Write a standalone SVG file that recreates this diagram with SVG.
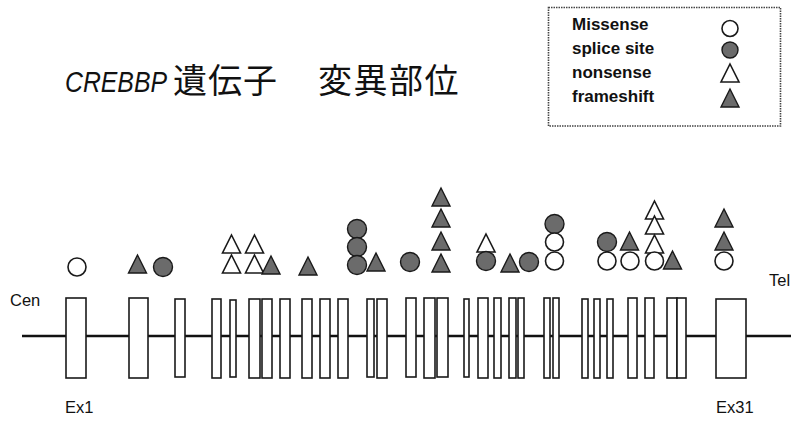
<svg xmlns="http://www.w3.org/2000/svg" xmlns:xlink="http://www.w3.org/1999/xlink" width="791" height="421" viewBox="0 0 791 421">
<style>
.lbl{font-family:"Liberation Sans",Arial,sans-serif;font-size:16.5px;fill:#111}
.leg{font-family:"Liberation Sans",Arial,sans-serif;font-size:17px;font-weight:bold;fill:#111}
.ex{fill:#fff;stroke:#1a1a1a;stroke-width:1.6}
.oc{fill:#fff;stroke:#1a1a1a;stroke-width:1.6}
.fc{fill:#6b6b6b;stroke:#1a1a1a;stroke-width:1.4}
.ot{fill:#fff;stroke:#1a1a1a;stroke-width:1.6;stroke-linejoin:miter}
.ft{fill:#6b6b6b;stroke:#1a1a1a;stroke-width:1.4}
.cjk{font-family:"Noto Sans CJK JP",sans-serif;font-size:34px;fill:#111}
</style>
<defs>
<path id="tri" d="M0,0 L9,18 L-9,18 Z"/>
</defs>
<rect width="791" height="421" fill="#fff"/>

<g id="title">
<text x="65" y="92" font-family="'Liberation Sans',Arial,sans-serif" font-style="italic" font-size="29" textLength="102" lengthAdjust="spacingAndGlyphs" fill="#111">CREBBP</text>
<text class="cjk" x="173" y="93" letter-spacing="1">遺伝子</text>
<text class="cjk" x="318" y="93" letter-spacing="1.5">変異部位</text>
</g>

<g id="legend">
<rect x="548.5" y="7.5" width="232" height="118.5" fill="#fff" stroke="#444" stroke-width="1.6" stroke-dasharray="1.5 1"/>
<text class="leg" x="572" y="30">Missense</text>
<text class="leg" x="572" y="54">splice site</text>
<text class="leg" x="572" y="78">nonsense</text>
<text class="leg" x="572" y="102">frameshift</text>
<circle class="oc" cx="730" cy="28.5" r="8"/>
<circle class="fc" cx="730" cy="50" r="8"/>
<use href="#tri" class="ot" x="730" y="64"/>
<use href="#tri" class="ft" x="730" y="89"/>
</g>

<g id="labels">
<text class="lbl" x="10" y="306">Cen</text>
<text class="lbl" x="769" y="286">Tel</text>
<text class="lbl" x="65" y="413">Ex1</text>
<text class="lbl" x="716" y="413">Ex31</text>
</g>

<g id="connectors">
<line x1="22" y1="336" x2="791" y2="336" stroke="#111" stroke-width="2.5"/>
</g>

<g id="exons">
<rect class="ex" x="66" y="298" width="20" height="80"/>
<rect class="ex" x="129" y="298" width="19" height="80"/>
<rect class="ex" x="175" y="299" width="10" height="78"/>
<rect class="ex" x="212" y="299" width="9" height="79"/>
<rect class="ex" x="230" y="300" width="6" height="77"/>
<rect class="ex" x="249" y="299" width="11" height="79"/>
<rect class="ex" x="262" y="299" width="10" height="79"/>
<rect class="ex" x="280" y="299" width="10" height="79"/>
<rect class="ex" x="302" y="299" width="10" height="79"/>
<rect class="ex" x="320" y="299" width="10" height="79"/>
<rect class="ex" x="338" y="299" width="10" height="79"/>
<rect class="ex" x="367" y="299" width="7" height="78"/>
<rect class="ex" x="377" y="299" width="10" height="79"/>
<rect class="ex" x="406" y="298" width="10" height="79"/>
<rect class="ex" x="424" y="298" width="11" height="80"/>
<rect class="ex" x="437" y="298" width="11" height="79"/>
<rect class="ex" x="464" y="299" width="5" height="78"/>
<rect class="ex" x="478" y="298" width="10" height="80"/>
<rect class="ex" x="494" y="298" width="7" height="80"/>
<rect class="ex" x="509" y="298" width="7" height="80"/>
<rect class="ex" x="518" y="298" width="6" height="80"/>
<rect class="ex" x="544" y="298" width="6" height="80"/>
<rect class="ex" x="553" y="298" width="6" height="80"/>
<rect class="ex" x="582" y="299" width="6" height="79"/>
<rect class="ex" x="594" y="299" width="6" height="79"/>
<rect class="ex" x="607" y="299" width="6" height="79"/>
<rect class="ex" x="628" y="298" width="9" height="80"/>
<rect class="ex" x="645" y="298" width="9" height="80"/>
<rect class="ex" x="667" y="298" width="10" height="80"/>
<rect class="ex" x="677" y="298" width="9" height="80"/>
<rect class="ex" x="716" y="299" width="30" height="79"/>
</g>

<g id="mutations">
<circle class="oc" cx="77" cy="267" r="9"/>
<use href="#tri" class="ft" x="137.5" y="255"/>
<circle class="fc" cx="163" cy="267" r="9.5"/>
<use href="#tri" class="ot" x="231.5" y="235"/>
<use href="#tri" class="ot" x="231.5" y="255"/>
<use href="#tri" class="ot" x="254.5" y="235"/>
<use href="#tri" class="ot" x="254.5" y="255"/>
<use href="#tri" class="ft" x="271" y="256"/>
<use href="#tri" class="ft" x="308" y="257"/>
<circle class="fc" cx="357" cy="229" r="9.5"/>
<circle class="fc" cx="357" cy="247" r="9.5"/>
<circle class="fc" cx="357" cy="265" r="9.5"/>
<use href="#tri" class="ft" x="376" y="253"/>
<circle class="fc" cx="410" cy="262" r="9.5"/>
<use href="#tri" class="ft" x="441" y="188"/>
<use href="#tri" class="ft" x="441" y="209"/>
<use href="#tri" class="ft" x="441" y="232"/>
<use href="#tri" class="ft" x="441" y="254"/>
<use href="#tri" class="ot" x="486" y="234"/>
<circle class="fc" cx="486" cy="261" r="9.5"/>
<use href="#tri" class="ft" x="510" y="254"/>
<circle class="fc" cx="529" cy="262" r="9.5"/>
<circle class="fc" cx="554.5" cy="224" r="9.5"/>
<circle class="oc" cx="554.5" cy="242" r="9"/>
<circle class="oc" cx="554.5" cy="261" r="9"/>
<circle class="fc" cx="607" cy="242" r="9.5"/>
<circle class="oc" cx="607" cy="261" r="9"/>
<use href="#tri" class="ft" x="629.5" y="232"/>
<circle class="oc" cx="630" cy="261" r="9"/>
<use href="#tri" class="ot" x="654.5" y="201"/>
<use href="#tri" class="ot" x="654.5" y="216"/>
<use href="#tri" class="ot" x="654.5" y="235"/>
<circle class="oc" cx="654.5" cy="261" r="9"/>
<use href="#tri" class="ft" x="672.5" y="251"/>
<use href="#tri" class="ft" x="724" y="209"/>
<use href="#tri" class="ft" x="724" y="232"/>
<circle class="oc" cx="724" cy="261" r="9"/>
</g>
</svg>
